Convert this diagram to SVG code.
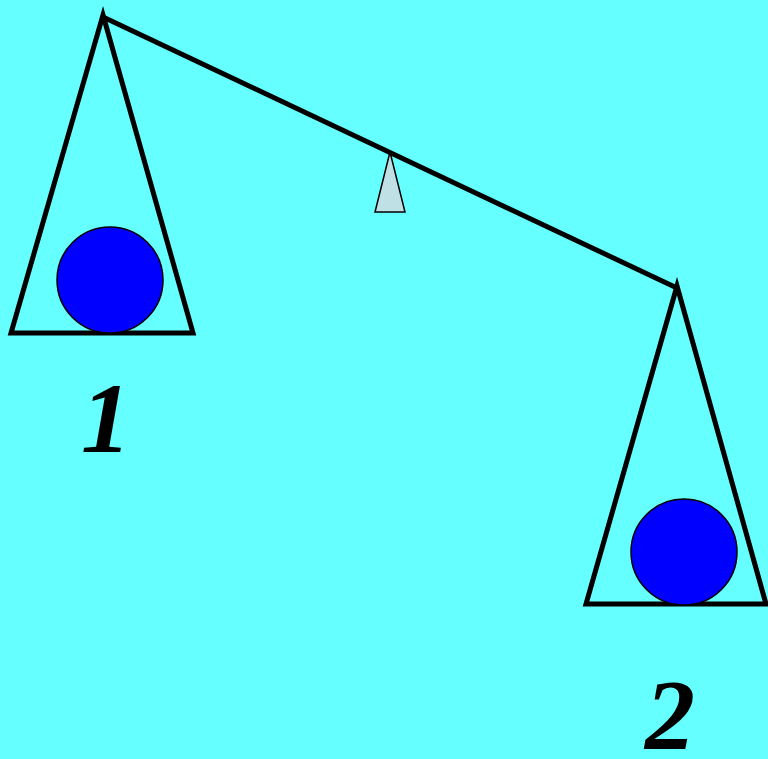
<svg xmlns="http://www.w3.org/2000/svg" width="768" height="759" viewBox="0 0 768 759">
<style>
.pan{fill:none;stroke:#000;stroke-width:5;stroke-linejoin:miter;stroke-miterlimit:20}
.ball{fill:#0000FF;stroke:#000;stroke-width:1.5}
.num{font-family:"Liberation Serif","DejaVu Serif",serif;font-weight:bold;font-style:italic;font-size:100px;fill:#000;text-anchor:middle}
</style>
<rect width="768" height="759" fill="#66FFFF"/>
<g id="connectors">
<line x1="103" y1="17" x2="677" y2="288" stroke="#000" stroke-width="5"/>
</g>
<g id="fulcrum">
<polygon points="390,152 375,212 405,212" fill="#BFE0E4" stroke="#000" stroke-width="1.5"/>
</g>
<g id="pan1">
<polygon class="pan" points="103,15 193,333 11,333"/>
<circle class="ball" cx="110" cy="280" r="53"/>
<text class="num" x="106" y="452">1</text>
</g>
<g id="pan2">
<polygon class="pan" points="677,286 766,604 586,604"/>
<circle class="ball" cx="684" cy="552" r="53"/>
<text class="num" x="670" y="748">2</text>
</g>
</svg>
